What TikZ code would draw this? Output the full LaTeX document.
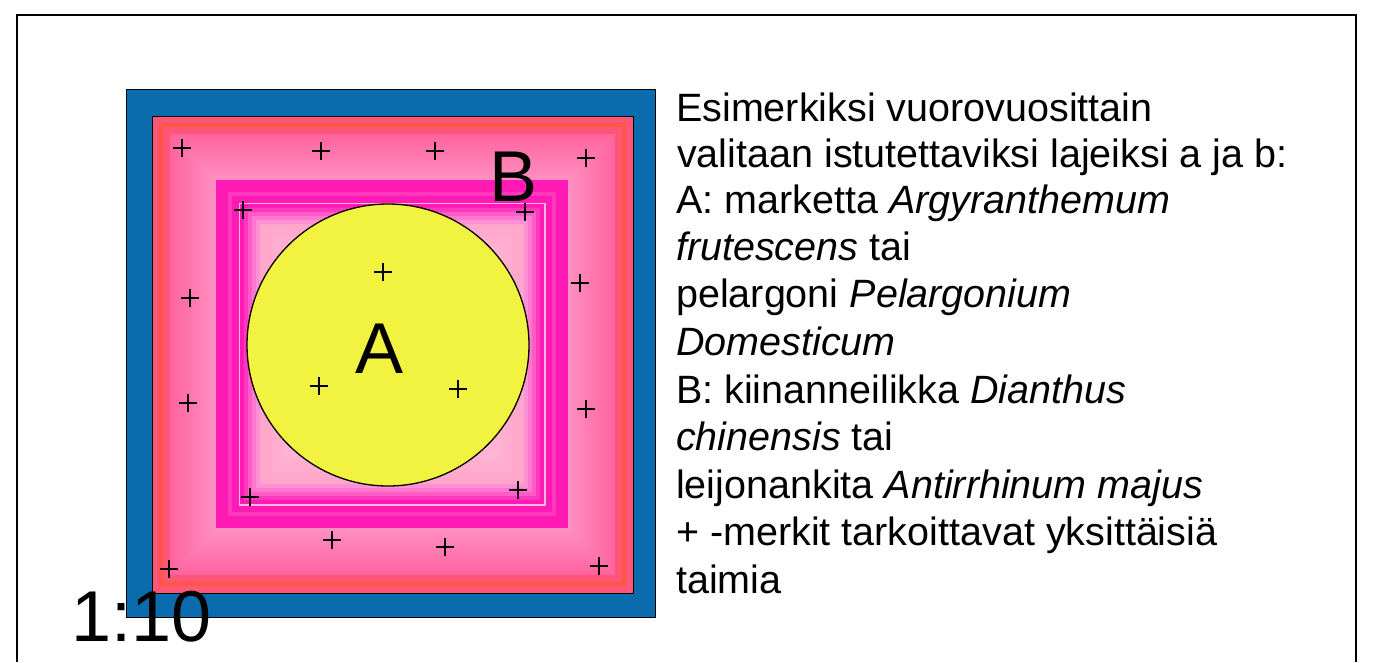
\documentclass[tikz,border=0pt]{standalone}
\usepackage{fontspec}
\setmainfont{Liberation Sans}
\definecolor{bluef}{HTML}{0B6CAD}
\definecolor{pkred}{HTML}{FF5577}
\definecolor{pkorange}{HTML}{FF5544}
\definecolor{pkA}{HTML}{FF64A0}
\definecolor{pkB}{HTML}{FF90C2}
\definecolor{mag}{HTML}{FF1AB5}
\definecolor{magB}{HTML}{FF38BD}
\definecolor{magC}{HTML}{FF5CC8}
\definecolor{magD}{HTML}{FF78CF}
\definecolor{magE}{HTML}{FF90D5}
\definecolor{magW}{HTML}{FFB8DD}
\definecolor{litA}{HTML}{FFA6CB}
\definecolor{litB}{HTML}{FFE6F0}
\definecolor{yel}{HTML}{F2F240}
\begin{document}
\begin{tikzpicture}[x=1pt,y=-1pt,
  plusm/.style={minimum size=18pt, inner sep=0pt,
    path picture={\draw[line width=1.3pt] (path picture bounding box.north) -- (path picture bounding box.south)
      (path picture bounding box.west) -- (path picture bounding box.east);}},
  txt/.style={anchor=base west, inner sep=0pt, font=\fontsize{39.5}{47}\selectfont},
  big/.style={inner sep=0pt, anchor=base, font=\fontsize{72}{80}\selectfont}]
\useasboundingbox (0,0) rectangle (1385,662);
% blue square
\draw[fill=bluef, line width=1.3pt] (126.5,89.5) rectangle (655.5,617.5);
% pink area
\fill[pkred] (152,116) rectangle (633,593);
\fill[pkorange] (159,123) rectangle (626,586);
\fill[pkred] (163,127) rectangle (622,582);
\foreach \i in {0,...,23} {
  \pgfmathsetmacro\d{18+2*\i}
  \pgfmathsetmacro\p{100*\i/23}
  \fill[pkB!\p!pkA] (152+\d,116+\d) rectangle (633-\d,593-\d);
}
\draw[line width=1pt] (152,116) rectangle (633,593);
% magenta frame
\fill[mag] (216,180) rectangle (568,528);
\fill[magB] (228,192) rectangle (556,516);
\fill[mag] (232,196) rectangle (552,512);
\fill[magW] (238.5,202.5) rectangle (545.5,505.5);
\fill[mag] (240,204) rectangle (544,504);
\fill[magB] (244,208) rectangle (540,500);
\fill[magC] (248,212) rectangle (536,496);
\fill[magD] (252,216) rectangle (532,492);
\fill[magE] (256,220) rectangle (528,488);
\foreach \i in {0,...,32} {
  \pgfmathsetmacro\d{44+4*\i}
  \pgfmathsetmacro\p{100*\i/32}
  \fill[litB!\p!litA] (216+\d,180+\d) rectangle (568-\d,528-\d);
}
% circle A
\node[circle, draw, fill=yel, minimum size=282pt, inner sep=0pt, line width=1.3pt] (circ) at (388,345) {};
% plants
\foreach \n/\x/\y in {p1/182/148, p2/321/151, p3/435/151, p4/586/158, p5/243/210, p6/525/212,
  p7/383/272, p8/190/298, p9/580/283, p10/319/386, p11/458/389, p12/188/403, p13/586/409,
  p14/250/497, p15/518/490, p16/332/540, p17/445/547, p18/169/569, p19/599/566}
  \node[plusm] (\n) at (\x,\y) {};
% labels
\node[big] (lA) at (380,373) {A};
\node[big] (lB) at (514,201) {B};
\node[big, anchor=base west] (scale) at (71,641) {1:10};
% text
\node[txt] (t1) at (676,121) {Esimerkiksi vuorovuosittain};
\node[txt] (t2) at (677,167) {valitaan istutettaviksi lajeiksi a ja b:};
\node[txt] (t3) at (676,213) {A: marketta \textit{Argyranthemum}};
\node[txt] (t4) at (676,260) {\textit{frutescens} tai};
\node[txt] (t5) at (676,307) {pelargoni \textit{Pelargonium}};
\node[txt] (t6) at (676,355) {\textit{Domesticum}};
\node[txt] (t7) at (676,403) {B: kiinanneilikka \textit{Dianthus}};
\node[txt] (t8) at (676,450) {\textit{chinensis} tai};
\node[txt] (t9) at (676,498) {leijonankita \textit{Antirrhinum majus}};
\node[txt] (t10) at (676,545) {+ -merkit tarkoittavat yksittäisiä};
\node[txt] (t11) at (676,593) {taimia};
% outer frame
\draw[line width=1.5pt] (17,662) -- (17,15) -- (1356,15) -- (1356,662);
\end{tikzpicture}
\end{document}
